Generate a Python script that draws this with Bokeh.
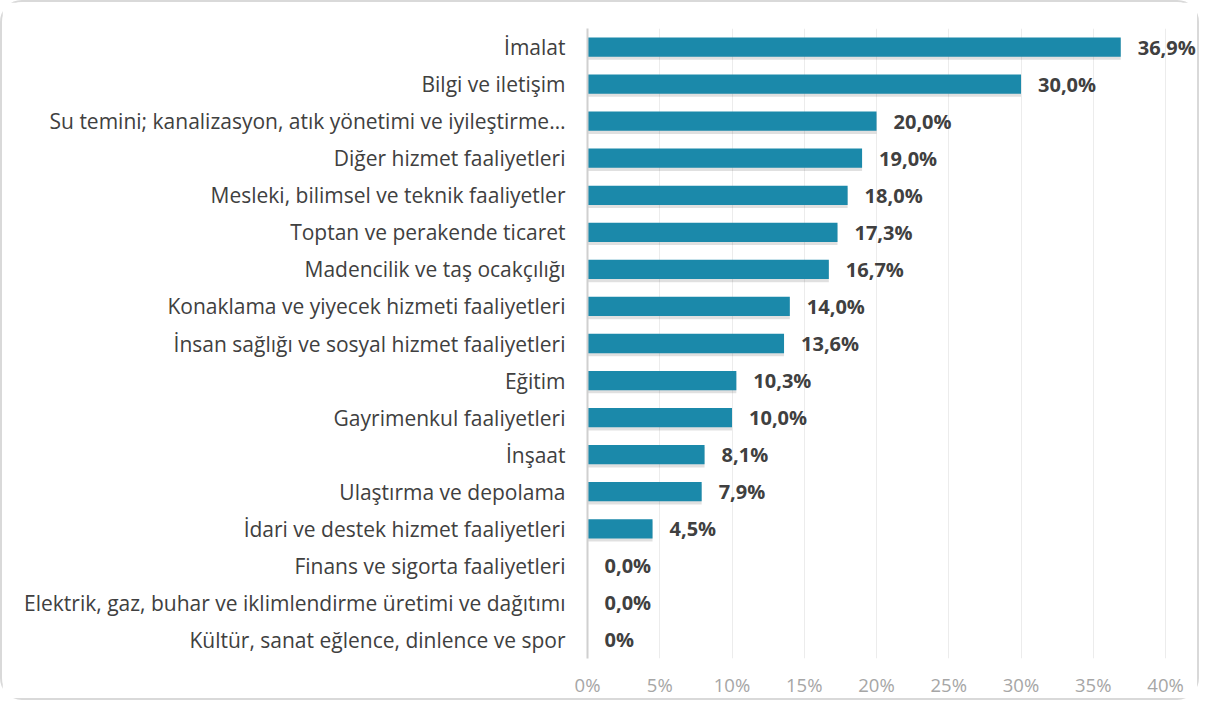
from bokeh.plotting import figure
from bokeh.models import FixedTicker, PrintfTickFormatter, ColumnDataSource
from bokeh.embed import file_html
from bokeh.resources import INLINE
from bokeh.core.properties import value
from bokeh.transform import dodge

categories = [
    "İmalat",
    "Bilgi ve iletişim",
    "Su temini; kanalizasyon, atık yönetimi ve iyileştirme…",
    "Diğer hizmet faaliyetleri",
    "Mesleki, bilimsel ve teknik faaliyetler",
    "Toptan ve perakende ticaret",
    "Madencilik ve taş ocakçılığı",
    "Konaklama ve yiyecek hizmeti faaliyetleri",
    "İnsan sağlığı ve sosyal hizmet faaliyetleri",
    "Eğitim",
    "Gayrimenkul faaliyetleri",
    "İnşaat",
    "Ulaştırma ve depolama",
    "İdari ve destek hizmet faaliyetleri",
    "Finans ve sigorta faaliyetleri",
    "Elektrik, gaz, buhar ve iklimlendirme üretimi ve dağıtımı",
    "Kültür, sanat eğlence, dinlence ve spor",
]
values = [36.9, 30.0, 20.0, 19.0, 18.0, 17.3, 16.7, 14.0, 13.6, 10.3, 10.0, 8.1, 7.9, 4.5, 0.0, 0.0, 0.0]
labels = ["36,9%", "30,0%", "20,0%", "19,0%", "18,0%", "17,3%", "16,7%", "14,0%", "13,6%",
          "10,3%", "10,0%", "8,1%", "7,9%", "4,5%", "0,0%", "0,0%", "0%"]
x_ticks = [0, 5, 10, 15, 20, 25, 30, 35, 40]

FONT = "Open Sans"

src = ColumnDataSource(dict(cat=categories, val=values, lab=labels))

p = figure(
    width=1199, height=700,
    y_range=list(reversed(categories)),
    x_range=(0, 42.35),
    output_backend="svg", toolbar_location=None,
    min_border_left=585, min_border_right=2,
    min_border_top=26, min_border_bottom=44,
)
p.styles = {"border": "2px solid #d9d9d9", "border-radius": "22px", "box-sizing": "border-box"}
p.outline_line_color = None
p.background_fill_color = "white"

# soft shadow
p.hbar(y=dodge("cat", -0.07, range=p.y_range), right="val", left=0, height=0.55,
       source=src, fill_color="black", fill_alpha=0.12, line_color=None)
p.hbar(y="cat", right="val", left=0, height=0.52, source=src,
       fill_color="#1b89aa", line_color=None)

p.text(x="val", y="cat", text="lab", source=src, x_offset=17,
       text_align="left", text_baseline="middle",
       text_font=value(FONT), text_font_size="20px", text_font_style="bold",
       text_color="#404040")

p.xaxis.ticker = FixedTicker(ticks=x_ticks)
p.xaxis.formatter = PrintfTickFormatter(format="%d%%")
p.xaxis.axis_line_color = None
p.xaxis.major_tick_line_color = None
p.xaxis.minor_tick_line_color = None
p.xaxis.major_tick_out = 0
p.xaxis.major_label_standoff = 13
p.xaxis.major_label_text_font = FONT
p.xaxis.major_label_text_font_size = "18.5px"
p.xaxis.major_label_text_color = "#a6a6a6"

p.yaxis.axis_line_color = "#d0d0d0"
p.yaxis.axis_line_width = 2
p.yaxis.major_tick_line_color = None
p.yaxis.minor_tick_line_color = None
p.yaxis.major_tick_out = 0
p.yaxis.major_label_standoff = 22
p.yaxis.major_label_text_font = FONT
p.yaxis.major_label_text_font_size = "21px"
p.yaxis.major_label_text_color = "#404040"

p.xgrid.grid_line_color = "#ececec"
p.xgrid.grid_line_width = 1
p.ygrid.grid_line_color = None

open("out.html", "w").write(file_html(p, INLINE))
